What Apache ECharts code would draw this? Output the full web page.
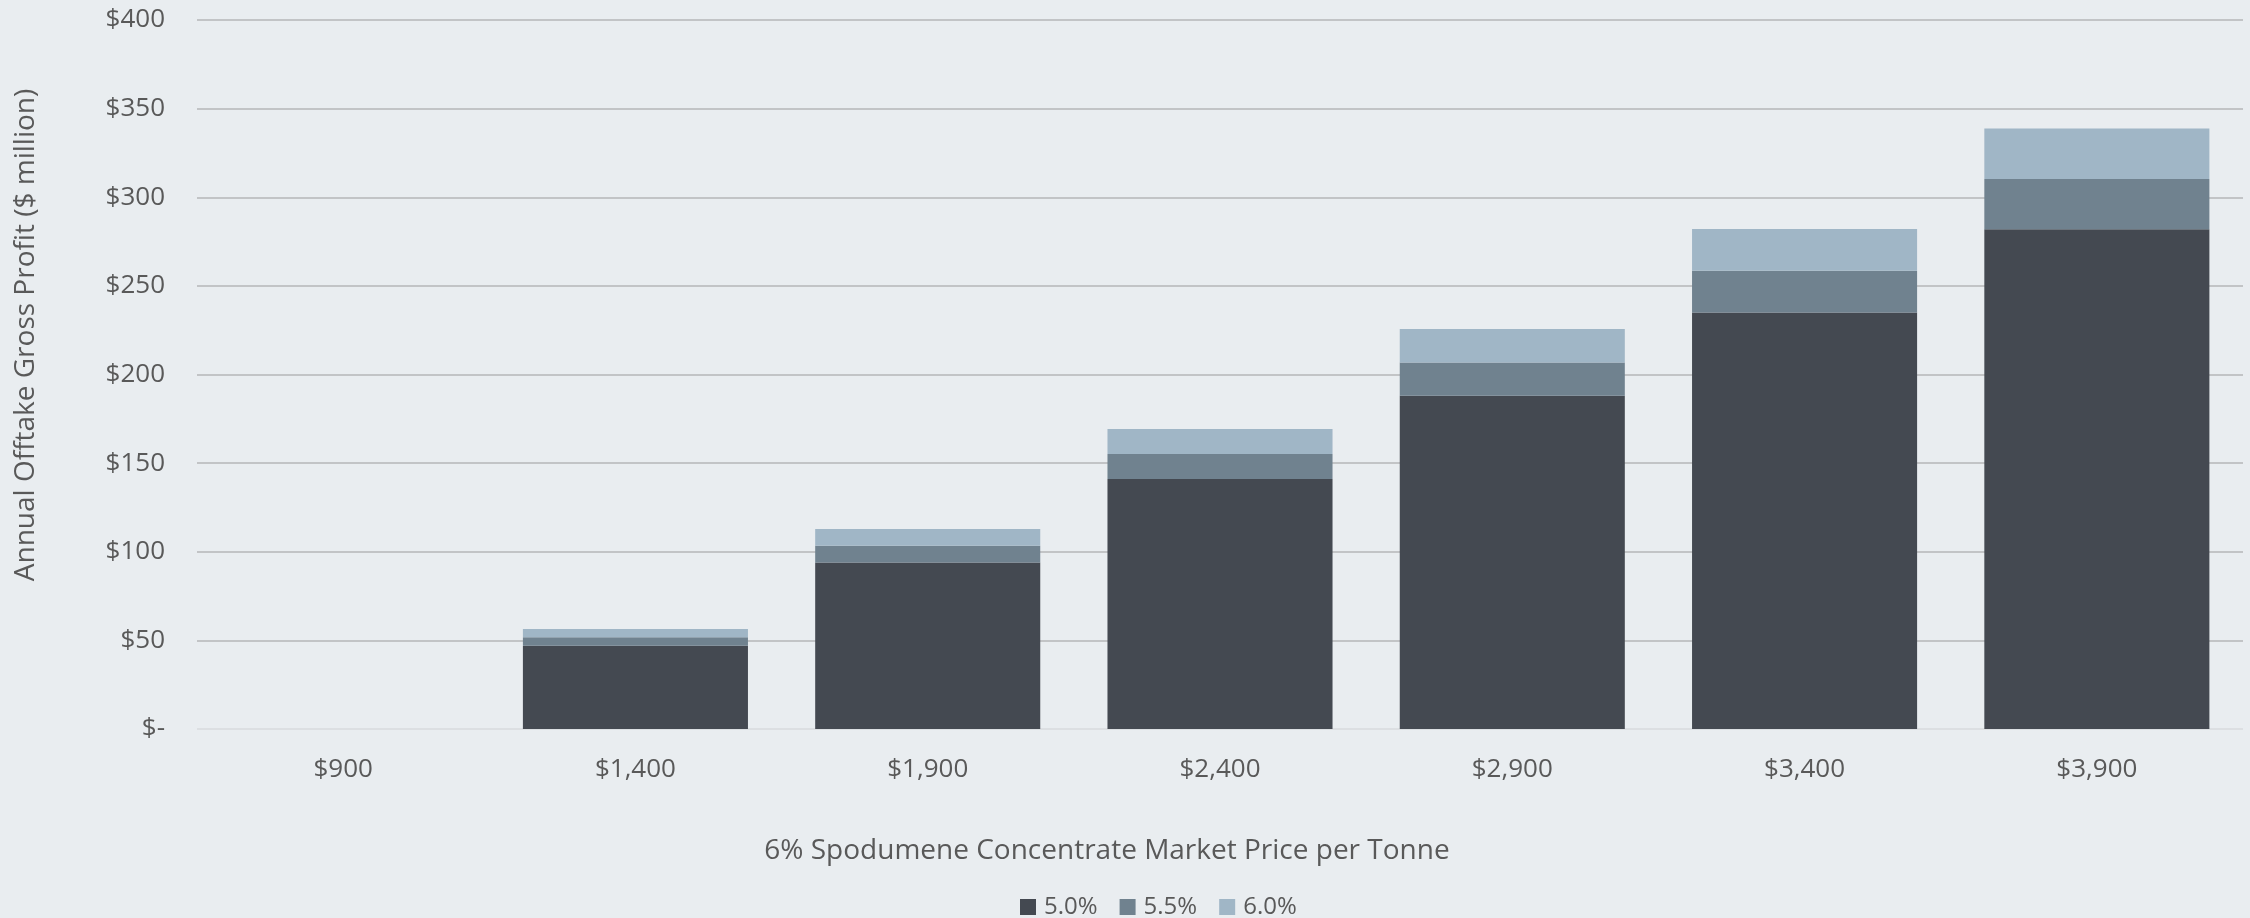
<!DOCTYPE html>
<html>
<head>
<meta charset="utf-8">
<script src="https://cdn.jsdelivr.net/npm/echarts@6/dist/echarts.min.js"></script>
<style>
html,body{margin:0;padding:0;background:#e9edf0;}
#c{width:2250px;height:918px;}
</style>
</head>
<body>
<div id="c"></div>
<script>
var categories = ['$900', '$1,400', '$1,900', '$2,400', '$2,900', '$3,400', '$3,900'];
var seriesNames = ['5.0%', '5.5%', '6.0%'];
// stacked segment heights ($ million)
var grade50 = [0, 47, 94, 141, 188, 235, 282];
var grade55 = [0, 4.7, 9.4, 14.1, 18.8, 23.5, 28.3];
var grade60 = [0, 4.7, 9.4, 14.1, 18.9, 23.6, 28.5];
var yTicks = [0, 50, 100, 150, 200, 250, 300, 350, 400];

var colors = ['#444951', '#70828f', '#a0b6c6'];
var font = 'Open Sans';
var txt = '#595959';

var chart = echarts.init(document.getElementById('c'));
var data = [grade50, grade55, grade60];
chart.setOption({
  backgroundColor: '#e9edf0',
  animation: false,
  textStyle: {fontFamily: font},
  grid: {left: 197, right: 7, top: 20, bottom: 189, containLabel: false},
  legend: {
    data: seriesNames,
    left: 1015,
    top: 890,
    itemWidth: 16,
    itemHeight: 16,
    itemGap: 22,
    icon: 'rect',
    textStyle: {fontFamily: font, fontSize: 24, color: txt, padding: [0, 0, 0, 3]}
  },
  xAxis: {
    type: 'category',
    data: categories,
    axisLine: {show: false},
    axisTick: {show: false},
    axisLabel: {fontFamily: font, fontSize: 26, color: txt, margin: 28}
  },
  yAxis: {
    type: 'value',
    min: yTicks[0],
    max: yTicks[yTicks.length - 1],
    interval: yTicks[1] - yTicks[0],
    axisLine: {show: false},
    axisTick: {show: false},
    axisLabel: {
      fontFamily: font, fontSize: 26, color: txt, margin: 32,
      formatter: function (v) { return v === 0 ? '$-' : '$' + v; }
    },
    splitLine: {lineStyle: {color: ['#dcdfe2', '#c2c4c6', '#c2c4c6', '#c2c4c6', '#c2c4c6', '#c2c4c6', '#c2c4c6', '#c2c4c6', '#c2c4c6'], width: 2}}
  },
  graphic: [
    {
      type: 'text', x: 1107, y: 851,
      style: {text: '6% Spodumene Concentrate Market Price per Tonne', fontFamily: font, fontSize: 28, fill: txt, align: 'center', verticalAlign: 'middle'}
    },
    {
      type: 'text', x: 26, y: 335, rotation: Math.PI / 2,
      style: {text: 'Annual Offtake Gross Profit ($ million)', fontFamily: font, fontSize: 28, fill: txt, align: 'center', verticalAlign: 'middle'}
    }
  ],
  series: seriesNames.map(function (n, i) {
    return {
      name: n,
      type: 'bar',
      stack: 'total',
      barWidth: '77%',
      data: data[i],
      itemStyle: {color: colors[i]}
    };
  })
});
</script>
</body>
</html>
